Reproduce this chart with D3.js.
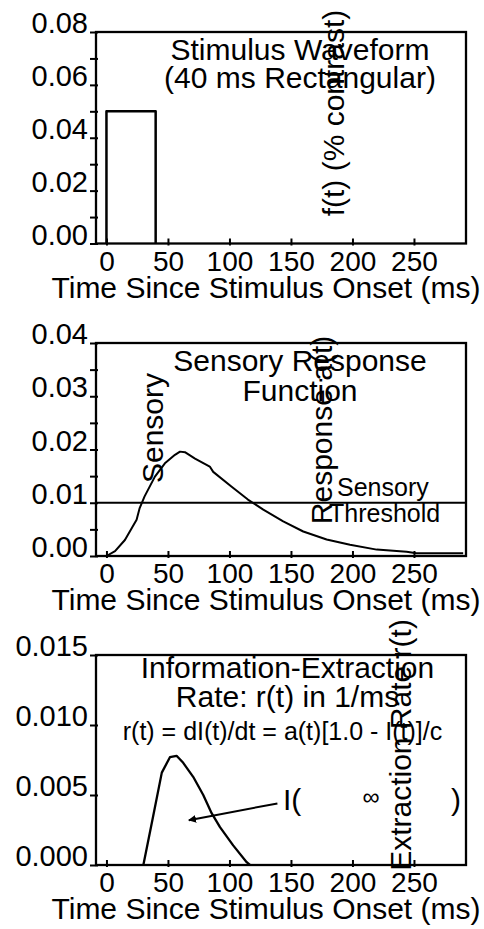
<!doctype html>
<html>
<head>
    <style>
        body { margin: 0; background: #fff; }
        text { font-family: "Liberation Sans", Arial, sans-serif; fill: #000; }
    </style>
    <script src="https://d3js.org/d3.v7.min.js"></script>
</head>
<body>
<svg width="484" height="929"></svg>
<script>
// data
var timeTicks = [0, 50, 100, 150, 200, 250];

var stimTime  = [0, 0, 40, 40];
var stimValue = [0, 0.05, 0.05, 0];
var stimTicks = [0, 0.01, 0.02, 0.03, 0.04, 0.05, 0.06, 0.07, 0.08];
var stimLabels = [0, 0.02, 0.04, 0.06, 0.08];

var sensTime  = [0, 7, 15, 24.5, 27, 31, 39.4, 47.5, 55.7, 59.8, 63.8, 72, 84, 86.8, 101.8, 115, 127.5, 143.7, 160, 179, 198, 219.7, 244, 252, 290];
var sensValue = [0, 0.0009, 0.003, 0.0068, 0.009, 0.0112, 0.0149, 0.0174, 0.019, 0.0196, 0.0195, 0.0183, 0.0168, 0.0158, 0.013, 0.0106, 0.0087, 0.0065, 0.0046, 0.0031, 0.0021, 0.0012, 0.0008, 0.0005, 0.0005];
var sensTicks = [0, 0.005, 0.01, 0.015, 0.02, 0.025, 0.03, 0.035, 0.04];
var sensLabels = [0, 0.01, 0.02, 0.03, 0.04];
var threshold = 0.01;

var rateTime  = [30, 38, 45, 51.6, 57, 62.4, 70.5, 78.7, 85.5, 92.3, 103, 114, 116.7];
var rateValue = [0, 0.0035, 0.0066, 0.0077, 0.0078, 0.0073, 0.0063, 0.005, 0.0037, 0.0027, 0.0014, 0.0002, 0];
var rateTicks = [0, 0.005, 0.01, 0.015];
var rateLabels = [0, 0.005, 0.01, 0.015];
var arrowFrom = [139, 0.0044];
var arrowTo   = [67, 0.0032];

var svg = d3.select("svg");

svg.append("defs").append("marker")
    .attr("id", "head")
    .attr("viewBox", "0 0 10 10")
    .attr("refX", 9).attr("refY", 5)
    .attr("markerWidth", 4).attr("markerHeight", 4)
    .attr("orient", "auto")
  .append("path")
    .attr("d", "M0,0L10,5L0,10z")
    .attr("fill", "#000");

var left = 96, right = 466;
var x = d3.scaleLinear().domain([-8.5, 292.3]).range([left, right]);

function panel(top, bottom, ymax, ticks, labels, fmt) {
    var y = d3.scaleLinear().domain([0, ymax]).range([bottom, top]);
    var g = svg.append("g");

    var ya = g.append("g")
        .attr("transform", "translate(" + left + ",0)")
        .call(d3.axisLeft(y).tickValues(ticks).tickSize(6).tickPadding(8)
            .tickFormat(function(d) {
                return labels.some(function(l) { return Math.abs(l - d) < 1e-9; }) ? d3.format(fmt)(d) : "";
            }));
    ya.select(".domain").remove();
    ya.selectAll("line").attr("x1", 2).attr("stroke", "#000").attr("stroke-width", 2);
    ya.selectAll("text").attr("dy", "0.02em").attr("x", -8).style("font-size", "29px");

    var xa = g.append("g")
        .attr("transform", "translate(0," + bottom + ")")
        .call(d3.axisBottom(x).tickValues(timeTicks).tickSize(2).tickPadding(6));
    xa.select(".domain").remove();
    xa.selectAll("line").attr("y1", -5).attr("stroke", "#000").attr("stroke-width", 2);
    xa.selectAll("text").attr("y", 27).attr("dy", 0).style("font-size", "28px");

    g.append("rect")
        .attr("x", left).attr("y", top)
        .attr("width", right - left).attr("height", bottom - top)
        .attr("fill", "none").attr("stroke", "#000").attr("stroke-width", 2.3);

    g.append("text")
        .attr("x", 266).attr("y", bottom + 54)
        .attr("text-anchor", "middle")
        .style("font-size", "30px")
        .text("Time Since Stimulus Onset (ms)");

    return { g: g, y: y };
}

function label(g, tx, ty, str, size, anchor, rot) {
    var t = g.append("text")
        .attr("text-anchor", anchor || "middle")
        .style("font-size", size + "px")
        .text(str);
    if (rot) t.attr("transform", "translate(" + tx + "," + ty + ") rotate(-90)");
    else t.attr("x", tx).attr("y", ty);
    return t;
}

function curve(g, y, xs, ys, w) {
    var line = d3.line()
        .x(function(d, i) { return x(xs[i]); })
        .y(function(d, i) { return y(ys[i]); });
    return g.append("path")
        .attr("d", line(xs))
        .attr("fill", "none")
        .attr("stroke", "#000")
        .attr("stroke-width", w)
        .attr("stroke-linejoin", "round");
}

// panel 1: stimulus waveform
var p1 = panel(32, 243.5, 0.08, stimTicks, stimLabels, ".2f");
curve(p1.g, p1.y, stimTime, stimValue, 2.5);
label(p1.g, 300, 60, "Stimulus Waveform", 30);
label(p1.g, 300, 88, "(40 ms Rectangular)", 30);
label(p1.g, 344, 113, "f(t) (% contrast)", 30, "middle", true);

// panel 2: sensory response
var p2 = panel(343, 556, 0.04, sensTicks, sensLabels, ".2f");
p2.g.append("line")
    .attr("x1", left).attr("x2", right)
    .attr("y1", p2.y(threshold)).attr("y2", p2.y(threshold))
    .attr("stroke", "#000").attr("stroke-width", 2);
curve(p2.g, p2.y, sensTime, sensValue, 2);
label(p2.g, 300, 371, "Sensory Response", 30);
label(p2.g, 300, 401, "Function", 30);
label(p2.g, 163, 428, "Sensory", 30, "middle", true);
label(p2.g, 332, 430, "Response a(t)", 30, "middle", true);
label(p2.g, 337, 496, "Sensory", 25, "start");
label(p2.g, 329, 522, "Threshold", 25, "start");

// panel 3: information-extraction rate
var p3 = panel(655, 865, 0.015, rateTicks, rateLabels, ".3f");
curve(p3.g, p3.y, rateTime, rateValue, 2.3);
p3.g.append("line")
    .attr("x1", x(arrowFrom[0])).attr("y1", p3.y(arrowFrom[1]))
    .attr("x2", x(arrowTo[0])).attr("y2", p3.y(arrowTo[1]))
    .attr("stroke", "#000").attr("stroke-width", 2)
    .attr("marker-end", "url(#head)");
label(p3.g, 287.5, 678, "Information-Extraction", 30);
label(p3.g, 287.5, 707, "Rate: r(t) in 1/ms", 30);
label(p3.g, 282.5, 740, "r(t) = dI(t)/dt = a(t)[1.0 - I(t)]/c", 25);
label(p3.g, 283, 810, "I(", 30, "start");
label(p3.g, 371, 805, "\u221e", 24);
label(p3.g, 451, 810, ")", 30, "start");
label(p3.g, 411, 745, "Extraction Rate r(t)", 30, "middle", true);
</script>
</body>
</html>
